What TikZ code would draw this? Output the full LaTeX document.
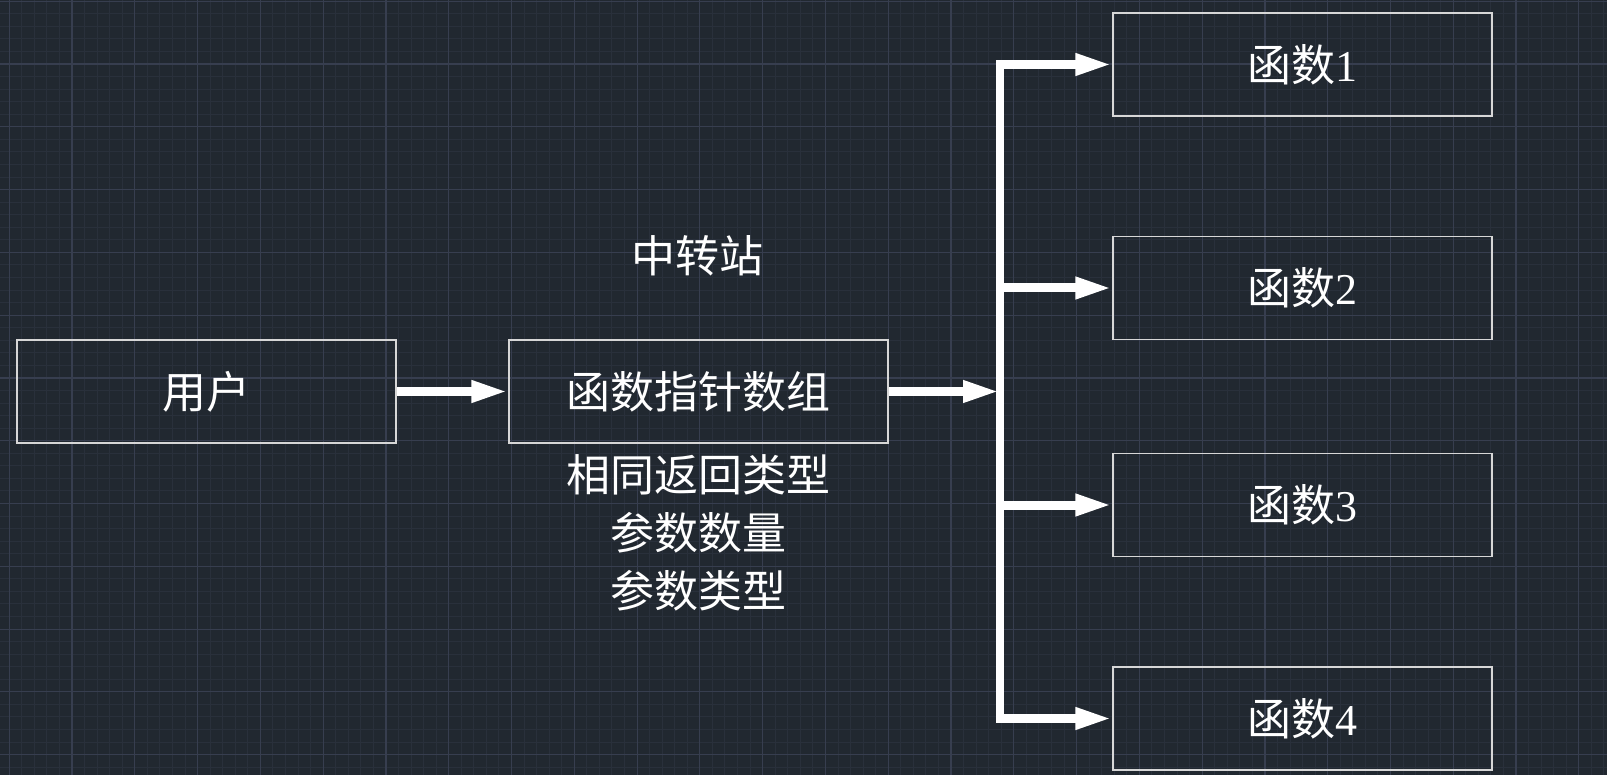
\documentclass[tikz,border=0pt]{standalone}
\usepackage{fontspec}
\setmainfont{Liberation Serif}
\newfontfamily\cjk{Noto Sans CJK SC}
\usetikzlibrary{arrows.meta,positioning}
\definecolor{cadbg}{RGB}{33,40,48}
\definecolor{cadminor}{RGB}{41,48,59}
\definecolor{cadmajor}{RGB}{55,62,79}
\definecolor{cadline}{RGB}{215,215,215}
\tikzset{box/.style={draw=cadline,line width=1.2pt,minimum width=379pt,minimum height=103pt,inner sep=0pt,
    text=white,font=\fontsize{44}{52}\selectfont},
  lbl/.style={text=white,inner sep=0pt,align=center,font=\fontsize{44}{58.3}\selectfont},
  arr/.style={white,line width=9pt,-{Triangle[length=37pt,width=20pt]}},
  trunk/.style={white,line width=8pt,line cap=rect}}

\begin{document}
\begin{tikzpicture}[x=1pt,y=-1pt]
\fill[cadbg] (0,0) rectangle (1607,775);
\useasboundingbox (0,0) rectangle (1607,775);
% grid
\foreach \i in {-1,...,127} \draw[cadminor,line width=1pt] ({9.3+12.556*\i},0) -- ++(0,775);
\foreach \i in {0,...,61} \draw[cadminor,line width=1pt] (0,{1.3+12.556*\i}) -- ++(1607,0);
\foreach \i in {0,...,25} \draw[cadmajor,line width=1.2pt] ({9.3+62.78*\i},0) -- ++(0,775);
\foreach \i in {0,...,12} \draw[cadmajor,line width=1.2pt] (0,{1.3+62.78*\i}) -- ++(1607,0);

\node[box] (user) at (206.5,391.5) {\cjk 用户};
\node[box] (table) at (698.5,391.5) {\cjk 函数指针数组};
\node[lbl] (hub) at (697,256) {\cjk 中转站};
\node[lbl] (note) at (698,533) {\cjk 相同返回类型\\\cjk 参数数量\\\cjk 参数类型};
\foreach \n/\y in {1/64.5,2/288,3/505,4/718.5}{
  \node[box] (f\n) at (1302.5,\y) {{\cjk 函数}\n};
  \coordinate (j\n) at (1000,\y);
}
\coordinate (jc) at (1000,391.5);

\draw[arr] (user) -- (table);
\draw[arr] (table) -- (jc);
\draw[trunk] (j1) -- (j4);
\foreach \n in {1,...,4} \draw[arr] (j\n) -- (f\n.west);
\end{tikzpicture}
\end{document}
